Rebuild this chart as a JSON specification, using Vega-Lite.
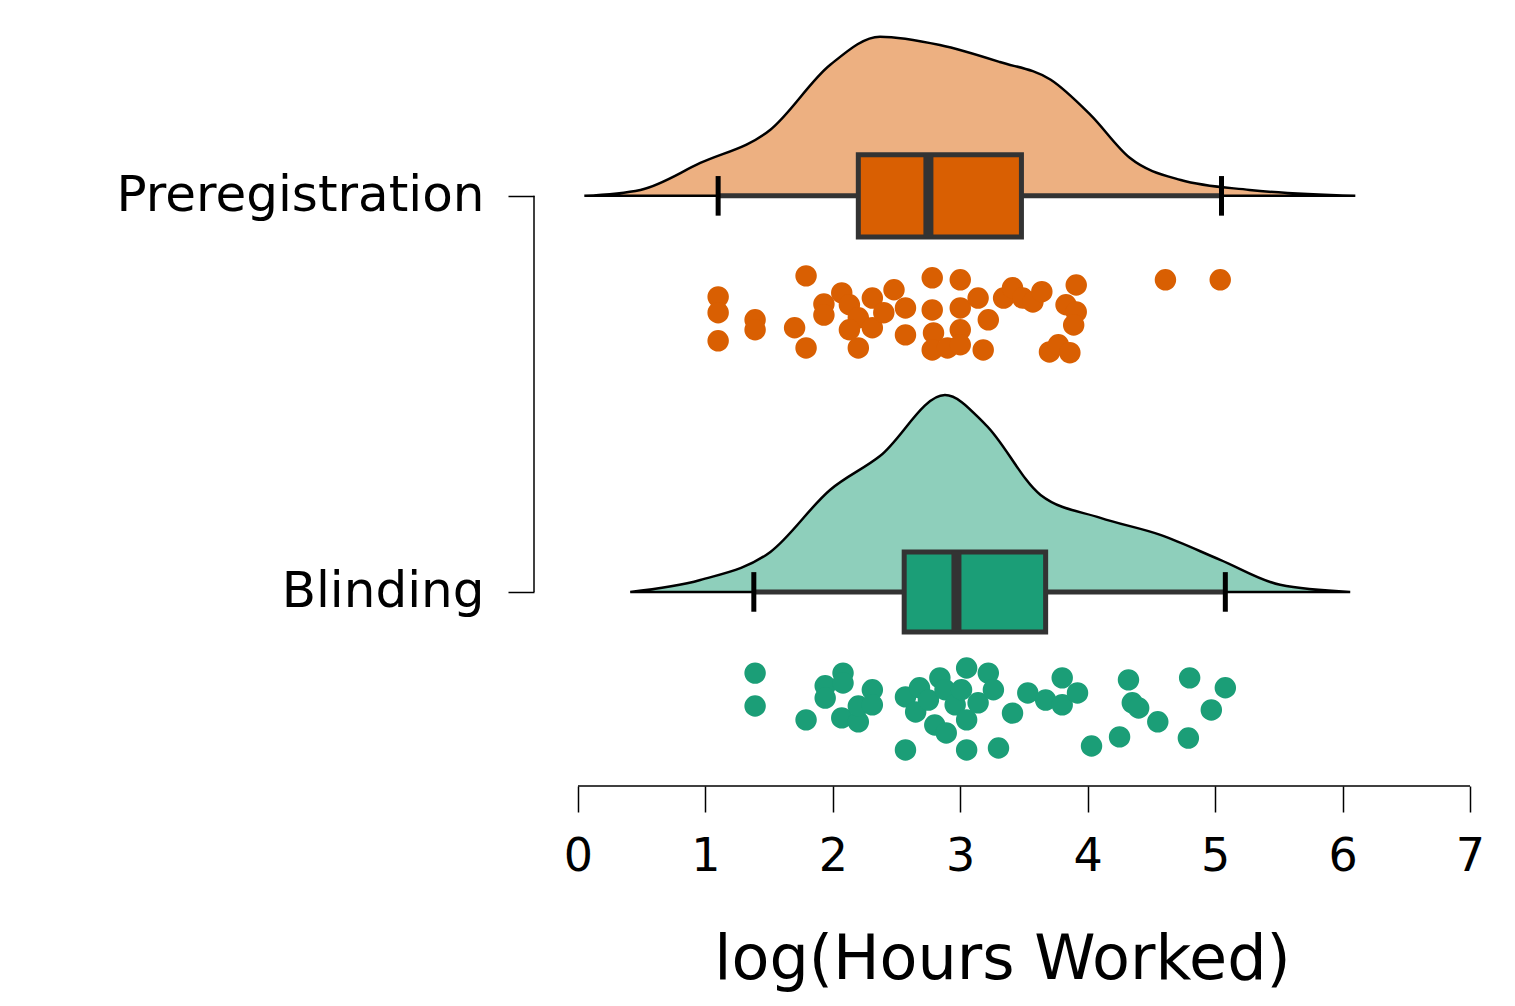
{
"$schema":"https://vega.github.io/schema/vega-lite/v6.json",
"autosize":"none","width":936,"height":766,
"padding":{"left":534,"top":20,"right":45,"bottom":220},
"config":{"view":{"stroke":null},"font":"DejaVu Sans"},
"datasets":{
"dens":[
{"group":"Preregistration","x":0.05,"y":1.0,"b":1},{"group":"Preregistration","x":0.49,"y":1.015,"b":1},{"group":"Preregistration","x":0.96,"y":1.083,"b":1},{"group":"Preregistration","x":1.51,"y":1.167,"b":1},{"group":"Preregistration","x":1.98,"y":1.331,"b":1},{"group":"Preregistration","x":2.37,"y":1.402,"b":1},{"group":"Preregistration","x":2.84,"y":1.381,"b":1},{"group":"Preregistration","x":3.31,"y":1.338,"b":1},{"group":"Preregistration","x":3.71,"y":1.293,"b":1},{"group":"Preregistration","x":4.02,"y":1.205,"b":1},{"group":"Preregistration","x":4.33,"y":1.096,"b":1},{"group":"Preregistration","x":4.73,"y":1.04,"b":1},{"group":"Preregistration","x":5.27,"y":1.015,"b":1},{"group":"Preregistration","x":6.1,"y":1.0,"b":1},
{"group":"Blinding","x":0.41,"y":0,"b":0},{"group":"Blinding","x":0.96,"y":0.03,"b":0},{"group":"Blinding","x":1.51,"y":0.101,"b":0},{"group":"Blinding","x":1.98,"y":0.258,"b":0},{"group":"Blinding","x":2.37,"y":0.343,"b":0},{"group":"Blinding","x":2.88,"y":0.497,"b":0},{"group":"Blinding","x":3.2,"y":0.422,"b":0},{"group":"Blinding","x":3.63,"y":0.245,"b":0},{"group":"Blinding","x":4.1,"y":0.187,"b":0},{"group":"Blinding","x":4.57,"y":0.144,"b":0},{"group":"Blinding","x":5.04,"y":0.081,"b":0},{"group":"Blinding","x":5.51,"y":0.018,"b":0},{"group":"Blinding","x":6.06,"y":0,"b":0}
],
"box":[
{"group":"Preregistration","lo":1.1,"q1":2.2,"med":2.75,"q3":3.48,"hi":5.05,"b":1,"bt":1.104,"bb":0.896,"wt":1.05,"wb":0.95},
{"group":"Blinding","lo":1.38,"q1":2.56,"med":2.97,"q3":3.67,"hi":5.08,"b":0,"bt":0.101,"bb":-0.101,"wt":0.05,"wb":-0.05}
],
"pts":[
{"group":"Preregistration","x":1.79,"y":0.798},{"group":"Preregistration","x":1.1,"y":0.745},{"group":"Preregistration","x":1.1,"y":0.705},{"group":"Preregistration","x":1.1,"y":0.634},{"group":"Preregistration","x":1.39,"y":0.687},{"group":"Preregistration","x":1.39,"y":0.662},{"group":"Preregistration","x":1.7,"y":0.667},{"group":"Preregistration","x":1.79,"y":0.616},{"group":"Preregistration","x":1.93,"y":0.727},{"group":"Preregistration","x":1.93,"y":0.699},{"group":"Preregistration","x":2.07,"y":0.755},{"group":"Preregistration","x":2.13,"y":0.725},{"group":"Preregistration","x":2.2,"y":0.692},{"group":"Preregistration","x":2.2,"y":0.616},{"group":"Preregistration","x":2.13,"y":0.662},{"group":"Preregistration","x":2.31,"y":0.742},{"group":"Preregistration","x":2.31,"y":0.667},{"group":"Preregistration","x":2.4,"y":0.705},{"group":"Preregistration","x":2.48,"y":0.763},{"group":"Preregistration","x":2.57,"y":0.717},{"group":"Preregistration","x":2.57,"y":0.649},{"group":"Preregistration","x":2.78,"y":0.793},{"group":"Preregistration","x":2.78,"y":0.712},{"group":"Preregistration","x":2.79,"y":0.654},{"group":"Preregistration","x":2.78,"y":0.611},{"group":"Preregistration","x":2.9,"y":0.616},{"group":"Preregistration","x":3.0,"y":0.788},{"group":"Preregistration","x":3.0,"y":0.717},{"group":"Preregistration","x":3.0,"y":0.662},{"group":"Preregistration","x":3.0,"y":0.624},{"group":"Preregistration","x":3.14,"y":0.742},{"group":"Preregistration","x":3.22,"y":0.687},{"group":"Preregistration","x":3.18,"y":0.611},{"group":"Preregistration","x":3.34,"y":0.742},{"group":"Preregistration","x":3.41,"y":0.768},{"group":"Preregistration","x":3.49,"y":0.742},{"group":"Preregistration","x":3.57,"y":0.732},{"group":"Preregistration","x":3.64,"y":0.758},{"group":"Preregistration","x":3.7,"y":0.606},{"group":"Preregistration","x":3.77,"y":0.624},{"group":"Preregistration","x":3.86,"y":0.604},{"group":"Preregistration","x":3.83,"y":0.725},{"group":"Preregistration","x":3.91,"y":0.775},{"group":"Preregistration","x":3.91,"y":0.707},{"group":"Preregistration","x":3.89,"y":0.674},{"group":"Preregistration","x":4.61,"y":0.788},{"group":"Preregistration","x":5.04,"y":0.788},
{"group":"Blinding","x":1.39,"y":-0.205},{"group":"Blinding","x":1.39,"y":-0.288},{"group":"Blinding","x":1.79,"y":-0.323},{"group":"Blinding","x":1.94,"y":-0.237},{"group":"Blinding","x":1.94,"y":-0.268},{"group":"Blinding","x":2.08,"y":-0.205},{"group":"Blinding","x":2.08,"y":-0.23},{"group":"Blinding","x":2.07,"y":-0.318},{"group":"Blinding","x":2.2,"y":-0.328},{"group":"Blinding","x":2.2,"y":-0.288},{"group":"Blinding","x":2.31,"y":-0.247},{"group":"Blinding","x":2.31,"y":-0.285},{"group":"Blinding","x":2.57,"y":-0.265},{"group":"Blinding","x":2.57,"y":-0.399},{"group":"Blinding","x":2.65,"y":-0.303},{"group":"Blinding","x":2.68,"y":-0.242},{"group":"Blinding","x":2.75,"y":-0.273},{"group":"Blinding","x":2.8,"y":-0.336},{"group":"Blinding","x":2.84,"y":-0.217},{"group":"Blinding","x":2.88,"y":-0.247},{"group":"Blinding","x":2.89,"y":-0.356},{"group":"Blinding","x":2.96,"y":-0.285},{"group":"Blinding","x":3.05,"y":-0.192},{"group":"Blinding","x":3.05,"y":-0.323},{"group":"Blinding","x":3.05,"y":-0.399},{"group":"Blinding","x":3.01,"y":-0.247},{"group":"Blinding","x":3.14,"y":-0.28},{"group":"Blinding","x":3.22,"y":-0.205},{"group":"Blinding","x":3.26,"y":-0.247},{"group":"Blinding","x":3.3,"y":-0.394},{"group":"Blinding","x":3.41,"y":-0.306},{"group":"Blinding","x":3.53,"y":-0.255},{"group":"Blinding","x":3.67,"y":-0.273},{"group":"Blinding","x":3.8,"y":-0.217},{"group":"Blinding","x":3.8,"y":-0.285},{"group":"Blinding","x":3.92,"y":-0.255},{"group":"Blinding","x":4.03,"y":-0.389},{"group":"Blinding","x":4.25,"y":-0.366},{"group":"Blinding","x":4.32,"y":-0.222},{"group":"Blinding","x":4.35,"y":-0.28},{"group":"Blinding","x":4.4,"y":-0.293},{"group":"Blinding","x":4.55,"y":-0.328},{"group":"Blinding","x":4.79,"y":-0.369},{"group":"Blinding","x":4.8,"y":-0.217},{"group":"Blinding","x":4.97,"y":-0.298},{"group":"Blinding","x":5.08,"y":-0.242}
],
"xaxis":[{"x":0,"x2":7,"y":-0.49}],
"yaxis":[{"x":-0.345,"y":0,"y2":1}]
},
"encoding":{
"x":{"type":"quantitative","scale":{"domain":[-0.345,7],"nice":false,"zero":false},
"axis":{"values":[0,1,2,3,4,5,6,7],"domain":false,"grid":false,"tickSize":26,"tickWidth":1.5,"tickColor":"#000","labelFontSize":46,"labelColor":"#000","labelPadding":22,"labelFlush":false,"labelOverlap":false,"title":"log(Hours Worked)","titleFontSize":62,"titleFontWeight":"normal","titleColor":"#000","titlePadding":50}},
"y":{"type":"quantitative","scale":{"domain":[-0.49,1.444],"nice":false,"zero":false},
"axis":{"values":[0,1],"labelExpr":"datum.value==1?'Preregistration':'Blinding'","labelLimit":600,"domain":false,"grid":false,"tickSize":26,"tickWidth":1.5,"tickColor":"#000","labelFontSize":50,"labelColor":"#000","labelPadding":24,"title":null}}
},
"layer":[
{"data":{"name":"dens"},"mark":{"type":"area","stroke":"#000","strokeWidth":2.5,"fillOpacity":1,"interpolate":"monotone"},
"encoding":{"x":{"field":"x","type":"quantitative"},"y":{"field":"y","type":"quantitative"},"y2":{"field":"b"},"detail":{"field":"group"},
"fill":{"field":"group","type":"nominal","scale":{"domain":["Preregistration","Blinding"],"range":["#EDB081","#8ECFBB"]},"legend":null}}},
{"data":{"name":"box"},"mark":{"type":"rule","color":"#333","strokeWidth":5},
"encoding":{"x":{"field":"lo","type":"quantitative"},"x2":{"field":"hi"},"y":{"field":"b","type":"quantitative"}}},
{"data":{"name":"box"},"mark":{"type":"rule","color":"#000","strokeWidth":5},
"encoding":{"x":{"field":"lo","type":"quantitative"},"y":{"field":"wb","type":"quantitative"},"y2":{"field":"wt"}}},
{"data":{"name":"box"},"mark":{"type":"rule","color":"#000","strokeWidth":5},
"encoding":{"x":{"field":"hi","type":"quantitative"},"y":{"field":"wb","type":"quantitative"},"y2":{"field":"wt"}}},
{"data":{"name":"box"},"mark":{"type":"rect","stroke":"#333","strokeWidth":5,"opacity":1},
"encoding":{"x":{"field":"q1","type":"quantitative"},"x2":{"field":"q3"},"y":{"field":"bb","type":"quantitative"},"y2":{"field":"bt"},
"color":{"field":"group","type":"nominal","scale":{"domain":["Preregistration","Blinding"],"range":["#D95F02","#1B9E77"]},"legend":null}}},
{"data":{"name":"box"},"mark":{"type":"rule","color":"#333","strokeWidth":10},
"encoding":{"x":{"field":"med","type":"quantitative"},"y":{"field":"bb","type":"quantitative"},"y2":{"field":"bt"}}},
{"data":{"name":"pts"},"mark":{"type":"circle","size":460,"opacity":1},
"encoding":{"x":{"field":"x","type":"quantitative"},"y":{"field":"y","type":"quantitative"},
"color":{"field":"group","type":"nominal","legend":null}}},
{"data":{"name":"xaxis"},"mark":{"type":"rule","color":"#000","strokeWidth":1.5},
"encoding":{"x":{"field":"x","type":"quantitative"},"x2":{"field":"x2"},"y":{"field":"y","type":"quantitative"}}},
{"data":{"name":"yaxis"},"mark":{"type":"rule","color":"#000","strokeWidth":1.5},
"encoding":{"x":{"field":"x","type":"quantitative"},"y":{"field":"y","type":"quantitative"},"y2":{"field":"y2"}}}
]
}
